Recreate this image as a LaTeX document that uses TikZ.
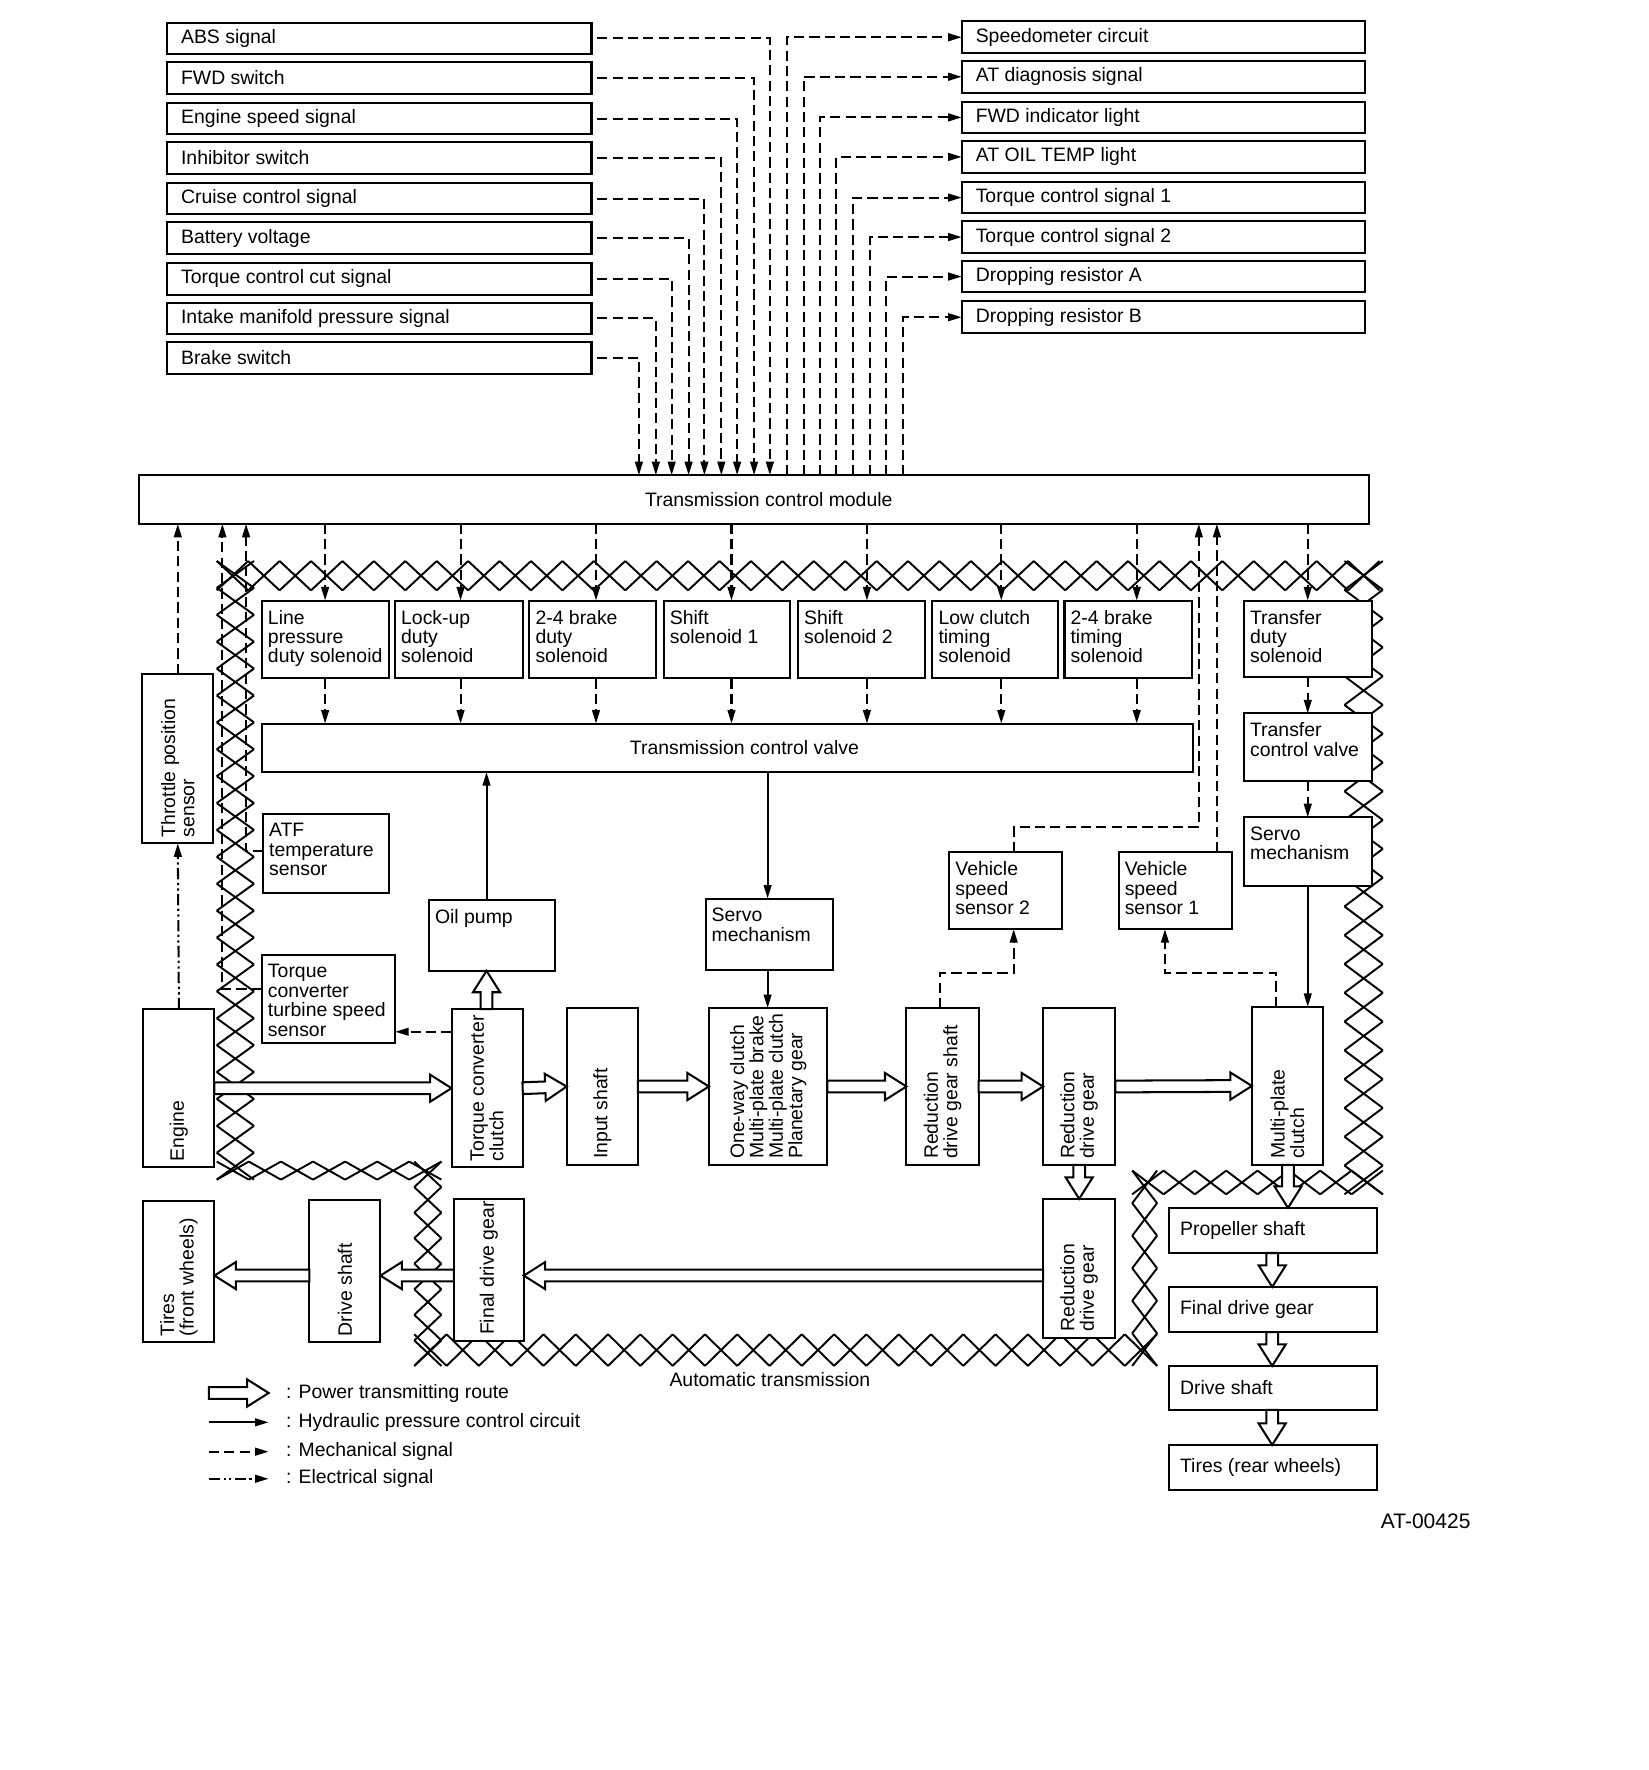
\documentclass[tikz,border=0pt]{standalone}
\usepackage{fontspec}
\setmainfont{Liberation Sans}
\usetikzlibrary{arrows.meta,calc}
\tikzset{
 every node/.style={font=\fontsize{8.6}{8.6}\selectfont},
 box/.style={draw,line width=0.9pt,fill=white,inner sep=0pt,outer sep=0pt},
 tl/.style={anchor=north west,align=left,inner xsep=2.5pt,inner ysep=4pt},
 rl/.style={anchor=west,inner xsep=6pt,inner ysep=0pt},
 rl2/.style={anchor=west,inner xsep=4.5pt,inner ysep=0pt},
 vt/.style={rotate=90,anchor=west,align=left,inner sep=2.5pt},
 ct/.style={inner sep=0pt},
 mech/.style={line width=0.9pt,dash pattern=on 4.5pt off 2.3pt},
 tip/.style={-{Triangle[length=6pt,width=3.4pt]}},
 hyd/.style={line width=0.9pt,-{Triangle[length=6pt,width=3.4pt]}},
 elec/.style={line width=0.9pt,dash pattern=on 5pt off 1.5pt on 1pt off 1.5pt on 1pt off 1.5pt},
 hatch/.style={line width=0.85pt},
 hol/.style={line width=0.9pt,fill=white,line join=miter},
}
\newcommand\bxg[8]{%
 \node[box,minimum width={(#4-#2)*0.5pt},minimum height={(#5-#3)*0.5pt}] (#1) at ({(#2+#4)/2},{(#3+#5)/2}) {};
 \node[#7] (#1-t) at (#1.#6) {#8};}
\newcommand\harrow[2]{%
 \draw[hol] let \p1=#1, \p2=#2, \n1={atan2(\y2-\y1,\x2-\x1)}, \n2={veclen(\x2-\x1,\y2-\y1)} in
 ([shift={(\p1)},rotate=\n1]0pt,2.6pt) -- ([shift={(\p1)},rotate=\n1]{\n2*1pt-9.5pt},2.6pt)
 -- ([shift={(\p1)},rotate=\n1]{\n2*1pt-9.5pt},6pt) -- ([shift={(\p1)},rotate=\n1]{\n2*1pt},0pt)
 -- ([shift={(\p1)},rotate=\n1]{\n2*1pt-9.5pt},-6pt) -- ([shift={(\p1)},rotate=\n1]{\n2*1pt-9.5pt},-2.6pt)
 -- ([shift={(\p1)},rotate=\n1]0pt,-2.6pt) -- cycle;}
\newcommand\hband[5]{%
 \pgfmathsetmacro\hst{(#2-#1)/#5}%
 \draw[hatch] \foreach \i in {1,...,#5} {({#1+(\i-1)*\hst},#3) -- ({#1+\i*\hst},#4) ({#1+(\i-1)*\hst},#4) -- ({#1+\i*\hst},#3)};}
\newcommand\vband[5]{%
 \pgfmathsetmacro\hst{(#2-#1)/#5}%
 \draw[hatch] \foreach \i in {1,...,#5} {(#3,{#1+(\i-1)*\hst}) -- (#4,{#1+\i*\hst}) (#4,{#1+(\i-1)*\hst}) -- (#3,{#1+\i*\hst})};}
\begin{document}
\begin{tikzpicture}[x=0.5pt,y=-0.5pt]
\useasboundingbox (0,0) rectangle (1460,1568);
% hatched boundary of the automatic transmission
\hband{192}{1222}{497}{523}{37}
\vband{497}{1045}{192}{225}{23}
\hband{192}{391}{1029}{1045}{7}
\vband{1029}{1210}{367}{391}{8}
\hband{367}{1025}{1182}{1210}{23}
\vband{1037}{1210}{1003}{1025}{6}
\hband{1003}{1225}{1037}{1058}{8}
\vband{497}{1058}{1191}{1225}{22}
% input boxes
\bxg{abs}{148}{20}{524}{48}{west}{rl}{ABS signal}
\bxg{fwds}{148}{55}{524}{83}{west}{rl}{FWD switch}
\bxg{ess}{148}{91}{524}{119}{west}{rl}{Engine speed signal}
\bxg{inh}{148}{126}{524}{154}{west}{rl}{Inhibitor switch}
\bxg{cru}{148}{162}{524}{190}{west}{rl}{Cruise control signal}
\bxg{bat}{148}{197}{524}{225}{west}{rl}{Battery voltage}
\bxg{tcut}{148}{233}{524}{261}{west}{rl}{Torque control cut signal}
\bxg{imp}{148}{268}{524}{296}{west}{rl}{Intake manifold pressure signal}
\bxg{brk}{148}{303}{524}{331}{west}{rl}{Brake switch}
% output boxes
\bxg{spd}{852}{19}{1209}{47}{west}{rl}{Speedometer circuit}
\bxg{atd}{852}{54}{1209}{82}{west}{rl}{AT diagnosis signal}
\bxg{fwdl}{852}{90}{1209}{118}{west}{rl}{FWD indicator light}
\bxg{oil}{852}{125}{1209}{153}{west}{rl}{AT OIL TEMP light}
\bxg{tcs1}{852}{161}{1209}{189}{west}{rl}{Torque control signal 1}
\bxg{tcs2}{852}{196}{1209}{224}{west}{rl}{Torque control signal 2}
\bxg{dra}{852}{231}{1209}{259}{west}{rl}{Dropping resistor A}
\bxg{drb}{852}{267}{1209}{295}{west}{rl}{Dropping resistor B}
% module and valves
\bxg{tcm}{123}{421}{1213}{464}{center}{ct,xshift=6.5pt}{Transmission control module}
\bxg{lp}{232}{532}{345}{601}{north west}{tl}{Line\\pressure\\duty solenoid}
\bxg{lu}{350}{532}{463}{601}{north west}{tl}{Lock-up\\duty\\solenoid}
\bxg{bd}{469}{532}{581}{601}{north west}{tl}{2-4 brake\\duty\\solenoid}
\bxg{s1}{588}{532}{700}{601}{north west}{tl}{Shift\\solenoid 1}
\bxg{s2}{707}{532}{819}{601}{north west}{tl}{Shift\\solenoid 2}
\bxg{lc}{826}{532}{937}{601}{north west}{tl}{Low clutch\\timing\\solenoid}
\bxg{bt}{943}{532}{1056}{601}{north west}{tl}{2-4 brake\\timing\\solenoid}
\bxg{tds}{1102}{532}{1215}{600}{north west}{tl}{Transfer\\duty\\solenoid}
\bxg{tcv}{232}{641}{1057}{684}{center}{ct,xshift=7.5pt}{Transmission control valve}
\bxg{tcv2}{1102}{632}{1215}{692}{north west}{tl}{Transfer\\control valve}
\bxg{srv2}{1102}{724}{1215}{785}{north west}{tl}{Servo\\mechanism}
\bxg{tps}{126}{597}{189}{747}{south}{vt}{Throttle position\\sensor}
\bxg{atf}{233}{721}{345}{791}{north west}{tl}{ATF\\temperature\\sensor}
\bxg{vss2}{841}{755}{941}{823}{north west}{tl}{Vehicle\\speed\\sensor 2}
\bxg{vss1}{991}{755}{1091}{823}{north west}{tl}{Vehicle\\speed\\sensor 1}
\bxg{op}{380}{797}{492}{860}{north west}{tl}{Oil pump}
\bxg{srv}{625}{796}{738}{859}{north west}{tl}{Servo\\mechanism}
\bxg{tss}{232}{846}{350}{924}{north west}{tl}{Torque\\converter\\turbine speed\\sensor}
% power train
\bxg{eng}{127}{894}{190}{1034}{south}{vt}{Engine}
\bxg{tcc}{400}{894}{463}{1034}{south}{vt}{Torque converter\\clutch}
\bxg{ins}{502}{893}{565}{1032}{south}{vt}{Input shaft}
\bxg{owc}{628}{893}{733}{1032}{south}{vt}{One-way clutch\\Multi-plate brake\\Multi-plate clutch\\Planetary gear}
\bxg{rdgs}{803}{893}{867}{1032}{south}{vt}{Reduction\\drive gear shaft}
\bxg{rdg}{924}{893}{988}{1032}{south}{vt}{Reduction\\drive gear}
\bxg{mpc}{1109}{892}{1172}{1032}{south}{vt}{Multi-plate\\clutch}
\bxg{rdg2}{924}{1062}{988}{1185}{south}{vt}{Reduction\\drive gear}
\bxg{fdg}{402}{1062}{464}{1188}{south}{vt}{Final drive gear}
\bxg{ds}{274}{1063}{337}{1189}{south}{vt}{Drive shaft}
\bxg{tf}{127}{1064}{190}{1189}{south}{vt}{Tires\\(front wheels)}
\bxg{prop}{1036}{1070}{1220}{1110}{west}{rl2}{Propeller shaft}
\bxg{fdr}{1036}{1140}{1220}{1180}{west}{rl2}{Final drive gear}
\bxg{dsr}{1036}{1210}{1220}{1249}{west}{rl2}{Drive shaft}
\bxg{tr}{1036}{1280}{1220}{1320}{west}{rl2}{Tires (rear wheels)}
% signals into the module
\foreach \n/\xx in {abs/682,fwds/668,ess/653,inh/639,cru/624,bat/610,tcut/595,imp/581,brk/566}
 \draw[mech,tip] ([xshift=2.5pt]\n.east) -| (\xx,0 |- tcm.north);
\foreach \n/\xx in {spd/697,atd/712,fwdl/726,oil/741,tcs1/756,tcs2/771,dra/785,drb/800}
 \draw[mech,tip] (\xx,0 |- tcm.north) |- (\n.west);
% solenoids
\foreach \n/\xx in {lp/288,lu/408,bd/528,s1/648,s2/768,lc/887,bt/1007}{
 \draw[mech,tip] (\xx,0 |- tcm.south) -- (\xx,0 |- \n.north);
 \draw[mech,tip] (\xx,0 |- \n.south) -- (\xx,0 |- tcv.north);}
\draw[mech,tip] (tds.north |- tcm.south) -- (tds.north);
\draw[mech,tip] (tds.south) -- (tcv2.north);
\draw[mech,tip] (tcv2.south) -- (srv2.north);
% sensors
\draw[mech,tip] (tps.north) -- (tps.north |- tcm.south);
\draw[elec,tip] (eng.north) -- (tps.south);
\draw[mech,tip] (atf.west |- 0,754) -| (218,0 |- tcm.south);
\draw[mech,tip] (tss.west |- 0,876) -| (197,0 |- tcm.south);
\draw[mech,tip] (tcc.west |- 0,914) -- (tss.east |- 0,914);
\draw[mech,tip] (833,0 |- rdgs.north) |- (898,862) -- (898,0 |- vss2.south);
\draw[mech,tip] (898,0 |- vss2.north) |- (1062,733) -- (1062,0 |- tcm.south);
\draw[mech,tip] (1078,0 |- vss1.north) -- (1078,0 |- tcm.south);
\draw[mech,tip] (1130,0 |- mpc.north) |- (1032,862) -- (1032,0 |- vss1.south);
% hydraulic
\draw[hyd] (431,0 |- op.north) -- (431,0 |- tcv.south);
\draw[hyd] (680,0 |- tcv.south) -- (680,0 |- srv.north);
\draw[hyd] (680,0 |- srv.south) -- (680,0 |- owc.north);
\draw[hyd] (srv2.south) -- (srv2.south |- mpc.north);
% power route
\harrow{(eng.east)}{(tcc.west)}
\harrow{(tcc.east)}{(ins.west)}
\harrow{(ins.east)}{(owc.west)}
\harrow{(owc.east)}{(rdgs.west)}
\harrow{(rdgs.east)}{(rdg.west)}
\harrow{(rdg.east)}{(mpc.west)}
\harrow{(431,0 |- tcc.north)}{(431,0 |- op.south)}
\harrow{(rdg.south)}{(rdg2.north)}
\harrow{(rdg2.west |- 0,1130)}{(fdg.east |- 0,1130)}
\harrow{(fdg.west |- 0,1130)}{(ds.east |- 0,1130)}
\harrow{(ds.west |- 0,1130)}{(tf.east |- 0,1130)}
\harrow{(1141,0 |- mpc.south)}{(1141,0 |- prop.north)}
\harrow{(1127,0 |- prop.south)}{(1127,0 |- fdr.north)}
\harrow{(1127,0 |- fdr.south)}{(1127,0 |- dsr.north)}
\harrow{(1127,0 |- dsr.south)}{(1127,0 |- tr.north)}
% labels
\node[ct] (atl) at (682,1222) {Automatic transmission};
\node[ct,anchor=east,font=\fontsize{9.3}{9.3}\selectfont] (code) at (1303,1348) {AT-00425};
% legend
\coordinate (l1a) at (185,1234); \coordinate (l1b) at (238,1234);
\coordinate (l2a) at (185,1260); \coordinate (l2b) at (238,1260);
\coordinate (l3a) at (185,1286); \coordinate (l3b) at (238,1286);
\coordinate (l4a) at (185,1310); \coordinate (l4b) at (238,1310);
\harrow{(l1a)}{(l1b)}
\draw[hyd] (l2a) -- (l2b);
\draw[mech,tip] (l3a) -- (l3b);
\draw[elec,tip] (l4a) -- (l4b);
\node[ct,anchor=west] (lt1) at (253,1234) {: Power transmitting route};
\node[ct,anchor=west] (lt2) at (253,1260) {: Hydraulic pressure control circuit};
\node[ct,anchor=west] (lt3) at (253,1286) {: Mechanical signal};
\node[ct,anchor=west] (lt4) at (253,1310) {: Electrical signal};
\end{tikzpicture}
\end{document}
